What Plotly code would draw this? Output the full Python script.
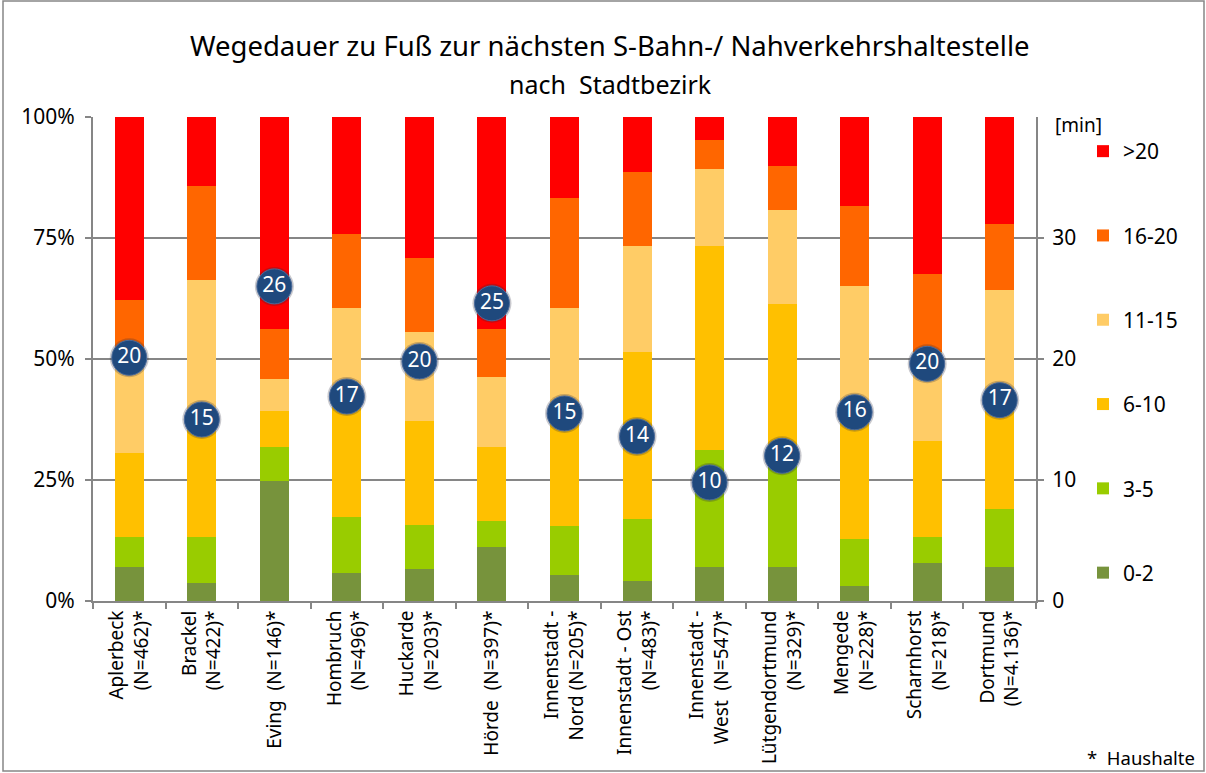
import plotly.graph_objects as go

categories = [
    "Aplerbeck<br>(N=462)*", "Brackel<br>(N=422)*", "Eving  (N=146)*",
    "Hombruch<br>(N=496)*", "Huckarde<br>(N=203)*", "Hörde  (N=397)*",
    "Innenstadt -<br>Nord (N=205)*", "Innenstadt - Ost<br>(N=483)*",
    "Innenstadt -<br>West  (N=547)*", "Lütgendortmund<br>(N=329)*",
    "Mengede<br>(N=228)*", "Scharnhorst<br>(N=218)*", "Dortmund<br>(N=4.136)*",
]

share_0_2   = [7.1, 3.8, 24.8, 5.8, 6.6, 11.2, 5.4, 4.2, 7.1, 7.1, 3.0, 7.9, 7.1]
share_3_5   = [6.2, 9.5, 7.0, 11.6, 9.1, 5.4, 10.0, 12.7, 24.2, 22.9, 9.9, 5.4, 11.9]
share_6_10  = [17.3, 23.2, 7.4, 23.6, 21.4, 15.2, 24.1, 34.6, 42.0, 31.4, 25.1, 19.8, 22.0]
share_11_15 = [19.4, 29.8, 6.6, 19.6, 18.5, 14.4, 21.1, 21.8, 16.0, 19.4, 27.1, 18.4, 23.3]
share_16_20 = [12.2, 19.4, 10.3, 15.2, 15.3, 9.9, 22.6, 15.3, 5.9, 9.1, 16.5, 16.1, 13.6]
share_gt20  = [37.8, 14.3, 43.9, 24.2, 29.1, 43.9, 16.8, 11.4, 4.8, 10.1, 18.4, 32.4, 22.1]

avg_minutes = [20.1, 15.0, 26.0, 16.9, 19.8, 24.6, 15.5, 13.6, 9.8, 12.0, 15.6, 19.6, 16.6]
avg_labels  = ["20", "15", "26", "17", "20", "25", "15", "14", "10", "12", "16", "20", "17"]

pct_ticks = [0, 25, 50, 75, 100]
pct_labels = ["0%", "25%", "50%", "75%", "100%"]
min_ticks = [0, 10, 20, 30]
min_labels = ["0", "10", "20", "30"]

series = [
    ("0-2", share_0_2, "#77933C"),
    ("3-5", share_3_5, "#99CC00"),
    ("6-10", share_6_10, "#FFC000"),
    ("11-15", share_11_15, "#FFCC66"),
    ("16-20", share_16_20, "#FF6600"),
    (">20", share_gt20, "#FF0000"),
]

FONT = "Noto Sans"
GRAY = "#868686"

fig = go.Figure()
n = len(series)
for i, (name, vals, col) in enumerate(series):
    fig.add_trace(go.Bar(
        x=categories, y=vals, name=name, legendgroup=name, legendrank=n - i,
        marker=dict(color=col, line=dict(width=0)), width=0.4,
    ))

# soft shadow behind markers
fig.add_trace(go.Scatter(
    x=categories, y=avg_minutes, yaxis="y2", mode="markers",
    marker=dict(size=39, color="rgba(40,40,60,0.25)", line=dict(width=0)),
    showlegend=False, hoverinfo="skip",
))
fig.add_trace(go.Scatter(
    x=categories, y=avg_minutes, yaxis="y2", mode="markers+text",
    text=avg_labels, textposition="middle center",
    textfont=dict(family=FONT, size=21, color="white"),
    marker=dict(size=35, color="#1F497D", line=dict(color="#4A6A9A", width=1)),
    showlegend=False,
))

fig.update_layout(
    width=1206, height=773,
    margin=dict(l=93, r=170, t=117, b=172),
    paper_bgcolor="white", plot_bgcolor="white",
    barmode="stack", bargap=0.6,
    font=dict(family=FONT, size=18, color="#000000"),
    showlegend=True,
    legend=dict(
        xref="container", yref="container",
        x=1083 / 1206, xanchor="left", y=1 - 131 / 773, yanchor="top",
        traceorder="grouped", tracegroupgap=54, maxheight=700,
        font=dict(family=FONT, size=21), bgcolor="rgba(0,0,0,0)",
        itemwidth=30,
    ),
    xaxis=dict(
        type="category", range=[-0.5, len(categories) - 0.5],
        showline=True, linecolor=GRAY, linewidth=2,
        ticks="outside", tickson="boundaries", ticklen=6, tickcolor=GRAY, tickwidth=1.5,
        tickangle=-90, tickfont=dict(family=FONT, size=19), showgrid=False,
        automargin=False,
    ),
    yaxis=dict(
        range=[0, 100], tickmode="array", tickvals=pct_ticks, ticktext=pct_labels,
        showline=True, linecolor=GRAY, linewidth=2,
        ticks="outside", ticklen=6, tickcolor=GRAY, tickwidth=1.5,
        showgrid=True, gridcolor=GRAY, gridwidth=1.5, zeroline=False,
        tickfont=dict(family=FONT, size=21), ticklabelstandoff=6, automargin=False,
    ),
    yaxis2=dict(
        range=[0, 40], tickmode="array", tickvals=min_ticks, ticktext=min_labels,
        overlaying="y", side="right",
        showline=True, linecolor=GRAY, linewidth=2,
        ticks="outside", ticklen=6, tickcolor=GRAY, tickwidth=1.5,
        showgrid=False, zeroline=False, tickfont=dict(family=FONT, size=21),
        ticklabelstandoff=4, automargin=False,
    ),
    annotations=[
        dict(text="Wegedauer zu Fuß zur nächsten S-Bahn-/ Nahverkehrshaltestelle",
             xref="paper", yref="paper", x=(610 - 93) / 943, y=(601 - 45) / 484,
             xanchor="center", yanchor="middle", showarrow=False,
             font=dict(family=FONT, size=27.5)),
        dict(text="nach  Stadtbezirk",
             xref="paper", yref="paper", x=(610 - 93) / 943, y=(601 - 84) / 484,
             xanchor="center", yanchor="middle", showarrow=False,
             font=dict(family=FONT, size=25)),
        dict(text="[min]", xref="paper", yref="paper",
             x=(1053 - 93) / 943, y=(601 - 125) / 484,
             xanchor="left", yanchor="middle", showarrow=False,
             font=dict(family=FONT, size=19)),
        dict(text="*  Haushalte", xref="paper", yref="paper",
             x=(1197 - 93) / 943, y=(601 - 757) / 484,
             xanchor="right", yanchor="middle", showarrow=False,
             font=dict(family=FONT, size=18.5)),
    ],
    shapes=[
        dict(type="rect", xref="paper", yref="paper",
             x0=(3 - 93) / 943, x1=(1204 - 93) / 943,
             y0=(601 - 771) / 484, y1=(601 - 1) / 484,
             line=dict(color=GRAY, width=1.5), fillcolor="rgba(0,0,0,0)", layer="below"),
    ],
)

fig.write_html("out.html", config={"displayModeBar": False},
               post_script="document.body.style.margin='0';")
